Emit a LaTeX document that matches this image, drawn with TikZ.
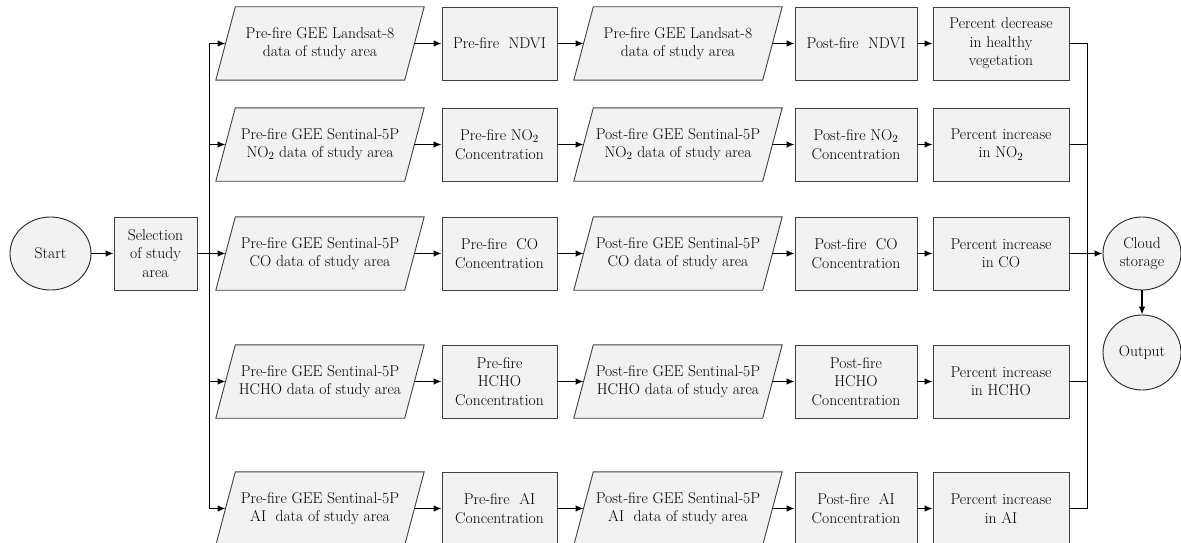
\documentclass[tikz,border=0pt]{standalone}
\usetikzlibrary{arrows.meta,shapes.geometric,backgrounds}
\definecolor{boxfill}{HTML}{F2F2F2}
\definecolor{boxline}{HTML}{404040}
\begin{document}
\begin{tikzpicture}[x=1pt,y=-1pt,
  txt/.style={align=center, font=\fontsize{15.6}{18.5}\selectfont},
  box/.style={txt, draw=boxline, fill=boxfill, line width=0.9pt, minimum height=73pt, inner sep=1pt},
  para/.style={txt, minimum width=188.5pt, minimum height=73pt, inner sep=0pt},
  oval/.style={txt, ellipse, draw=black!85, fill=boxfill, line width=0.9pt, inner sep=0pt},
  conn/.style={line width=1.3pt, -{Latex[length=8pt,width=6.5pt]}},
  wire/.style={line width=1.3pt}]
\useasboundingbox (0,0) rectangle (1181,543);

% left part
\node[oval, minimum width=81pt, minimum height=73pt] (start) at (50.5,253.5) {Start};
\node[box, minimum width=83pt] (sel) at (155.5,253.5) {Selection\\of study\\area};
\coordinate (lt1) at (209.5,43.5);
\coordinate (lt3) at (209.5,253.5);
\coordinate (lt5) at (209.5,508.5);

% row 1
\node[para] (p11) at (320,43.5) {Pre-fire GEE Landsat-8\\data of study area};
\node[box, minimum width=115pt] (b12) at (499.5,43.5) {Pre-fire~ NDVI};
\node[para] (p13) at (678,43.5) {Pre-fire GEE Landsat-8\\data of study area};
\node[box, minimum width=122pt] (b14) at (856,43.5) {Post-fire~ NDVI};
\node[box, minimum width=136pt] (b15) at (1001,43.5) {Percent decrease\\in healthy\\vegetation};

% row 2
\node[para] (p21) at (320,144.5) {Pre-fire GEE Sentinal-5P\\NO\textsubscript{2} data of study area};
\node[box, minimum width=115pt] (b22) at (499.5,144.5) {Pre-fire NO\textsubscript{2}\\Concentration};
\node[para] (p23) at (678,144.5) {Post-fire GEE Sentinal-5P\\NO\textsubscript{2} data of study area};
\node[box, minimum width=122pt] (b24) at (856,144.5) {Post-fire NO\textsubscript{2}\\Concentration};
\node[box, minimum width=136pt] (b25) at (1001,144.5) {Percent increase\\in NO\textsubscript{2}};

% row 3
\node[para] (p31) at (320,253.5) {Pre-fire GEE Sentinal-5P\\CO data of study area};
\node[box, minimum width=115pt] (b32) at (499.5,253.5) {Pre-fire~ CO\\Concentration};
\node[para] (p33) at (678,253.5) {Post-fire GEE Sentinal-5P\\CO data of study area};
\node[box, minimum width=122pt] (b34) at (856,253.5) {Post-fire~ CO\\Concentration};
\node[box, minimum width=136pt] (b35) at (1001,253.5) {Percent increase\\in CO};

% row 4
\node[para] (p41) at (320,381.5) {Pre-fire GEE Sentinal-5P\\HCHO data of study area};
\node[box, minimum width=115pt] (b42) at (499.5,381.5) {Pre-fire\\HCHO\\Concentration};
\node[para] (p43) at (678,381.5) {Post-fire GEE Sentinal-5P\\HCHO data of study area};
\node[box, minimum width=122pt] (b44) at (856,381.5) {Post-fire\\HCHO\\Concentration};
\node[box, minimum width=136pt] (b45) at (1001,381.5) {Percent increase\\in HCHO};

% row 5
\node[para] (p51) at (320,508.5) {Pre-fire GEE Sentinal-5P\\AI~ data of study area};
\node[box, minimum width=115pt] (b52) at (499.5,508.5) {Pre-fire~ AI\\Concentration};
\node[para] (p53) at (678,508.5) {Post-fire GEE Sentinal-5P\\AI~ data of study area};
\node[box, minimum width=122pt] (b54) at (856,508.5) {Post-fire~ AI\\Concentration};
\node[box, minimum width=136pt] (b55) at (1001,508.5) {Percent increase\\in AI};

% right part
\node[oval, minimum width=78pt, minimum height=73pt] (cloud) at (1142,253.5) {Cloud\\storage};
\node[oval, minimum width=78pt, minimum height=75pt] (out) at (1142,352.5) {Output};
\coordinate (rt1) at (1087.5,43.5);
\coordinate (rt5) at (1087.5,508.5);

% parallelogram outlines
\begin{scope}[on background layer]
\foreach \n in {p11,p13,p21,p23,p31,p33,p41,p43,p51,p53}{
  \filldraw[fill=boxfill, draw=boxline, line width=0.9pt]
    ([xshift=-9.75pt]\n.south west) -- ([xshift=9.75pt]\n.north west)
    -- ([xshift=9.75pt]\n.north east) -- ([xshift=-9.75pt]\n.south east) -- cycle;
}
\end{scope}

% connectors
\draw[conn] (start) -- (sel);
\draw[wire] (sel.east) -- (lt3);
\draw[wire] (lt1) -- (lt5);
\foreach \r/\y in {1/43.5,2/144.5,3/253.5,4/381.5,5/508.5}{
  \draw[conn] (209.5,\y) -- (p\r1.west);
  \draw[conn] (p\r1.east) -- (b\r2.west);
  \draw[conn] (b\r2.east) -- (p\r3.west);
  \draw[conn] (p\r3.east) -- (b\r4.west);
  \draw[conn] (b\r4.east) -- (b\r5.west);
}
\foreach \r/\y in {1/43.5,2/144.5,4/381.5,5/508.5}{
  \draw[wire] (b\r5.east) -- (1087.5,\y);
}
\draw[wire] (rt1) -- (rt5);
\draw[conn] (b35.east) -- (cloud.west);
\draw[conn] (cloud) -- (out);
\end{tikzpicture}
\end{document}
